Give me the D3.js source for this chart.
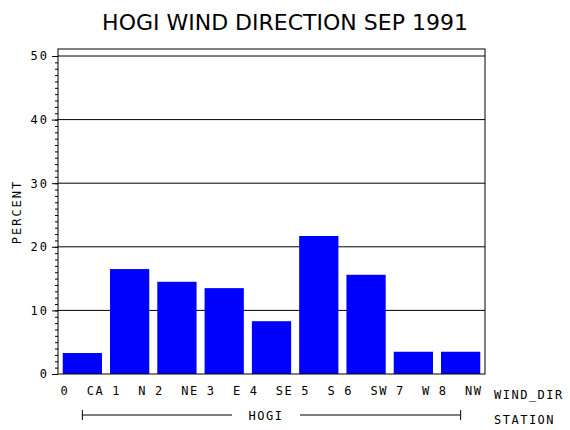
<!DOCTYPE html>
<html>
<head>
<script src="https://cdn.jsdelivr.net/npm/d3@7"></script>
<style>body{margin:0;background:#fff}</style>
</head>
<body>
<svg id="chart" width="570" height="430"></svg>
<script>
const categories = ['0 CA', '1 N', '2 NE', '3 E', '4 SE', '5 S', '6 SW', '7 W', '8 NW'];
const percents = [3.3, 16.5, 14.5, 13.5, 8.3, 21.7, 15.6, 3.5, 3.5];
const yTicks = [0, 10, 20, 30, 40, 50];

var svg = d3.select('#chart');
var margin = {left: 58, right: 85, top: 49, bottom: 56};
var width = 570 - margin.left - margin.right;
var height = 430 - margin.top - margin.bottom;
const font = 'DejaVu Sans Mono, monospace';

const xScale = d3.scaleBand().domain(categories).range([0, width]).paddingInner(0.17).paddingOuter(0.1);
const yScale = d3.scaleLinear().domain([0, 50]).range([height, 7]);

const g = svg.append('g').attr('transform', `translate(${margin.left},${margin.top})`);

g.selectAll('.grid').data(yTicks.slice(1)).join('line')
  .attr('x1', 0).attr('x2', width)
  .attr('y1', d => yScale(d)).attr('y2', d => yScale(d))
  .attr('stroke', '#000');

g.selectAll('.bar').data(percents).join('rect')
  .attr('x', (d, i) => xScale(categories[i]))
  .attr('y', d => yScale(d))
  .attr('width', xScale.bandwidth())
  .attr('height', d => yScale(0) - yScale(d))
  .attr('fill', '#0000ff');

g.append('rect').attr('width', width).attr('height', height)
  .attr('fill', 'none').attr('stroke', '#000');

// minor ticks
g.append('g').call(d3.axisLeft(yScale).ticks(50).tickSize(3).tickFormat(''))
  .call(a => a.select('.domain').remove());
const yAxis = g.append('g').call(d3.axisLeft(yScale).tickValues(yTicks).tickSize(6).tickPadding(3));
yAxis.select('.domain').remove();
yAxis.selectAll('text').attr('font-family', font).attr('font-size', 12).attr('letter-spacing', 2);

const xAxis = g.append('g').attr('transform', `translate(0,${height})`)
  .call(d3.axisBottom(xScale).tickSize(0).tickPadding(12));
xAxis.select('.domain').remove();
xAxis.selectAll('text').attr('font-family', font).attr('font-size', 12).attr('letter-spacing', 1.5)
  .attr('xml:space', 'preserve').text(d => d.replace(' ', '  '));

svg.append('text').attr('x', 494).attr('y', 399).attr('font-family', font).attr('font-size', 12)
  .attr('letter-spacing', 1.5).text('WIND_DIR');
svg.append('text').attr('x', 494).attr('y', 424).attr('font-family', font).attr('font-size', 12)
  .attr('letter-spacing', 1.5).text('STATION');

// station bracket
const x0 = margin.left + xScale(categories[0]) + xScale.bandwidth() / 2;
const x1 = margin.left + xScale(categories[8]) + xScale.bandwidth() / 2;
svg.append('line').attr('x1', x0).attr('x2', 232).attr('y1', 415).attr('y2', 415).attr('stroke', '#000');
svg.append('line').attr('x1', 300).attr('x2', x1).attr('y1', 415).attr('y2', 415).attr('stroke', '#000');
svg.append('line').attr('x1', x0).attr('x2', x0).attr('y1', 410).attr('y2', 420).attr('stroke', '#000');
svg.append('line').attr('x1', x1).attr('x2', x1).attr('y1', 410).attr('y2', 420).attr('stroke', '#000');
svg.append('text').attr('x', 266).attr('y', 420).attr('text-anchor', 'middle').attr('font-family', font)
  .attr('font-size', 12).attr('letter-spacing', 1.5).text('HOGI');

svg.append('text').attr('transform', 'translate(21,212) rotate(-90)').attr('text-anchor', 'middle')
  .attr('font-family', font).attr('font-size', 12).attr('letter-spacing', 2).text('PERCENT');

svg.append('text').attr('x', 285).attr('y', 30).attr('text-anchor', 'middle')
  .attr('font-family', 'DejaVu Sans, sans-serif').attr('font-size', 22).attr('font-weight', 'normal')
  .text('HOGI WIND DIRECTION SEP 1991');
</script>
</body>
</html>
